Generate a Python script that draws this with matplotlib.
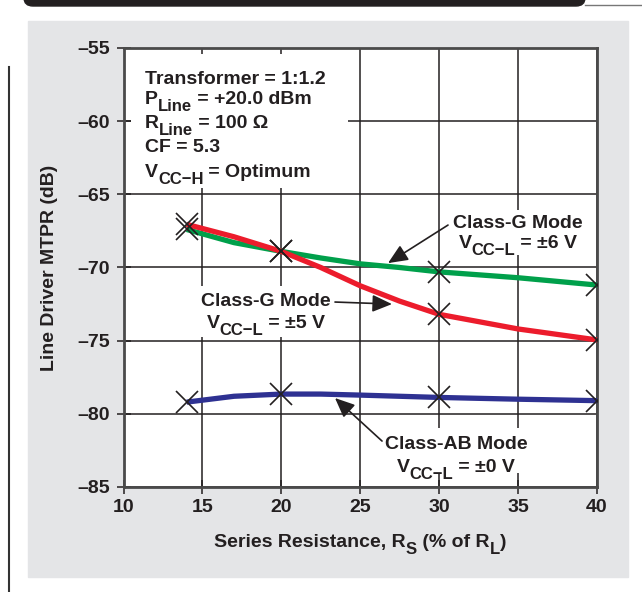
import matplotlib
matplotlib.use('Agg')
import matplotlib.pyplot as plt
from matplotlib.patches import Rectangle, FancyBboxPatch
from matplotlib.lines import Line2D

plt.rcParams['font.family'] = ['Liberation Sans', 'DejaVu Sans']
plt.rcParams['font.weight'] = 'bold'
plt.rcParams['axes.labelweight'] = 'bold'

# curve values (series resistance, % of R_L)
curve_x = [14, 17, 20, 22.5, 25, 27.5, 30, 35, 40]
g6_curve = [-67.4, -68.3, -68.9, -69.35, -69.75, -70.0, -70.3, -70.7, -71.2]
g5_curve = [-67.05, -67.9, -68.9, -70.0, -71.25, -72.3, -73.2, -74.2, -74.95]
ab_curve = [-79.2, -78.8, -78.65, -78.65, -78.72, -78.8, -78.88, -79.0, -79.1]

# measured points (x markers)
mark_x = [14, 20, 30, 40]
g6_marks = [-67.4, -68.9, -70.3, -71.2]
g5_marks = [-67.0, -68.9, -73.2, -74.95]
ab_marks = [-79.2, -78.65, -78.88, -79.1]

xticks = [10, 15, 20, 25, 30, 35, 40]
yticks = [-55, -60, -65, -70, -75, -80, -85]

W, H = 642, 592
txt_col = '#231f20'
fs = 14
sub_fs = 12

fig = plt.figure(figsize=(W / 100, H / 100), dpi=100)
renderer = fig.canvas.get_renderer()

def fx(px):
    return px / W

def fy(py):
    return 1 - py / H

# page decorations: gray panel, top bar, side rule
fig.patches.append(Rectangle((fx(28), fy(577)), fx(628) - fx(28), fy(21) - fy(577),
                             transform=fig.transFigure, color='#e4e5e7', zorder=-2))
fig.patches.append(FancyBboxPatch((fx(24), fy(6)), fx(585) - fx(24), fy(-20) - fy(6),
                                  boxstyle='round,pad=0,rounding_size=0.014',
                                  transform=fig.transFigure, color='#231f20', zorder=-2))
fig.lines.append(Line2D([fx(585), fx(642)], [fy(5), fy(5)], transform=fig.transFigure,
                        color='#777777', lw=1, zorder=-2))
fig.lines.append(Line2D([fx(9), fx(9)], [fy(67), fy(592)], transform=fig.transFigure,
                        color='#333333', lw=1.5, zorder=-2))

ax = fig.add_axes([fx(123.5), fy(487), fx(597) - fx(123.5), fy(48) - fy(487)])
ax.set_zorder(1)
ax.set_facecolor('white')
ax.set_xlim(10, 40)
ax.set_ylim(-85, -55)
ax.set_xticks(xticks)
ax.set_yticks(yticks)
ax.set_yticklabels(['\u2013' + str(abs(v)) for v in yticks])
ax.grid(True, color='#231f20', lw=1.1)
ax.set_axisbelow(True)
for s in ax.spines.values():
    s.set_color('#4a4a4a')
    s.set_linewidth(2)
ax.tick_params(axis='both', direction='inout', length=10, width=1.1, color='#231f20',
               labelsize=fs, labelcolor=txt_col)
ax.tick_params(axis='y', pad=5)
ax.tick_params(axis='x', pad=4)
ax.set_ylabel('Line Driver MTPR (dB)', fontsize=fs, color=txt_col, labelpad=14)


def rich(x, y, parts, ha='left', coords='data'):
    # parts: list of (text, is_subscript); subscripts drawn smaller and lower
    widths = []
    for s, sub in parts:
        t = ax.text(0, 0, s, fontsize=sub_fs if sub else fs, fontweight='bold')
        widths.append(t.get_window_extent(renderer).width * 0.72)
        t.remove()
    off = 0 if ha == 'left' else -sum(widths) / 2
    for (s, sub), w in zip(parts, widths):
        ax.annotate(s, xy=(x, y), xycoords=coords, xytext=(off, -5 if sub else 0),
                    textcoords='offset points', fontsize=sub_fs if sub else fs,
                    fontweight='bold', color=txt_col, ha='left', va='baseline',
                    zorder=5, annotation_clip=False)
        off += w


rich(0.5, -0.137, [('Series Resistance, R', False), ('S', True), (' (% of R', False),
                   ('L', True), (')', False)], ha='center', coords='axes fraction')

# curves
ax.plot(curve_x, g6_curve, color='#00a04b', lw=3.8, solid_capstyle='butt', zorder=3)
ax.plot(curve_x, g5_curve, color='#ec1c2c', lw=3.8, solid_capstyle='butt', zorder=3)
ax.plot(curve_x, ab_curve, color='#2e3192', lw=3.8, solid_capstyle='butt', zorder=3)
for ys in [g6_marks, g5_marks, ab_marks]:
    ax.plot(mark_x, ys, ls='none', marker='x', ms=16, mew=1.2, color='#231f20', zorder=4)

# conditions box
ax.add_patch(Rectangle((10.5, -64.6), 13.7, 9.2, facecolor='white', edgecolor='none', zorder=1))
box_lines = [[('Transformer = 1:1.2', False)],
             [('P', False), ('Line', True), (' = +20.0 dBm', False)],
             [('R', False), ('Line', True), (' = 100 \u03a9', False)],
             [('CF = 5.3', False)],
             [('V', False), ('CC\u2212H', True), (' = Optimum', False)]]
box_y = [-57.46, -58.83, -60.47, -62.11, -63.82]
for parts, y in zip(box_lines, box_y):
    rich(11.36, y, parts)

# curve labels, each on a white patch that hides the grid
labels = [
    ('Class-G Mode', '6', 35.0, -67.30, -68.67, (30.6, -69.15, 9.1, 3.1)),
    ('Class-G Mode', '5', 19.03, -72.64, -74.14, (14.5, -74.75, 9.1, 3.5)),
    ('Class-AB Mode', '0', 31.07, -82.41, -83.98, (26.3, -84.05, 9.6, 3.05)),
]
for l1, v, xc, y1, y2, (bx, by, bw, bh) in labels:
    ax.add_patch(Rectangle((bx, by), bw, bh, facecolor='white', edgecolor='none', zorder=1))
    rich(xc, y1, [(l1, False)], ha='center')
    rich(xc, y2, [('V', False), ('CC\u2212L', True), (' = \u00b1' + v + ' V', False)],
         ha='center')

arrows = [((26.76, -69.70), (30.56, -67.10)),
          ((27.01, -72.50), (23.40, -72.36)),
          ((23.40, -78.92), (26.38, -81.86))]
for tip, start in arrows:
    ax.annotate('', xy=tip, xytext=start, zorder=6,
                arrowprops=dict(arrowstyle='-|>,head_length=0.8,head_width=0.35',
                                color='#231f20', lw=1.2, mutation_scale=15,
                                shrinkA=0, shrinkB=0))

fig.savefig('out.png', dpi=100)
